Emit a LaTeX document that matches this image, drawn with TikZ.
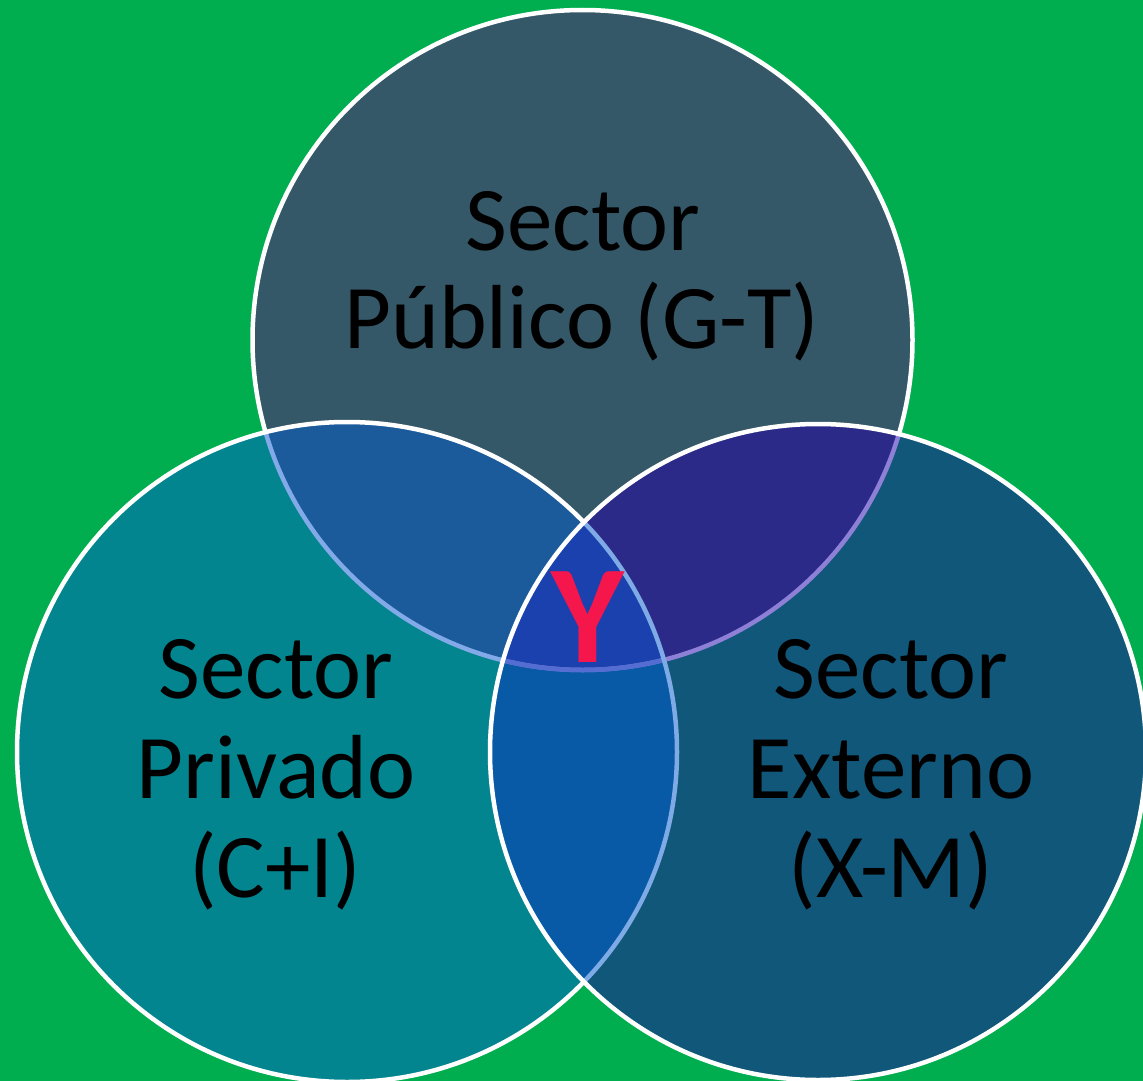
\documentclass[tikz,border=0pt]{standalone}
\usepackage{fontspec}
\setmainfont{Carlito}
\definecolor{bggreen}{HTML}{00AE50}
\definecolor{ctop}{HTML}{355869}
\definecolor{cleft}{HTML}{02858F}
\definecolor{cright}{HTML}{10577A}
\definecolor{ctl}{HTML}{1B5A9B}
\definecolor{ctr}{HTML}{2C2A88}
\definecolor{clr}{HTML}{0859A6}
\definecolor{ccen}{HTML}{1A41AE}
\definecolor{arcTL}{HTML}{83AAE8}
\definecolor{arcTR}{HTML}{8E80D6}
\definecolor{arcC}{HTML}{546DD2}
\definecolor{arcLR}{HTML}{7EAAE6}
\definecolor{yred}{HTML}{F5174B}
\tikzset{
  rim/.style={line width=4.5pt},
  lbl/.style={anchor=base, inner sep=0pt, text=black, font=\fontsize{91}{100}\selectfont},
}
\begin{document}
\begin{tikzpicture}[x=1pt,y=-1pt]
\useasboundingbox (0,0) rectangle (1143,1081);
\clip (0,0) rectangle (1143,1081);
\fill[bggreen] (0,0) rectangle (1143,1081);
\coordinate (T) at (582.5,340);
\coordinate (L) at (347,752);
\coordinate (R) at (818,752);
\def\rT{330}\def\rL{330}\def\rR{328}
% top circle
\fill[ctop] (T) circle[radius=\rT];
\draw[white,rim] (T) circle[radius=\rT];
% left circle
\fill[cleft] (L) circle[radius=\rL];
\begin{scope}
  \clip (L) circle[radius=\rL];
  \fill[ctl] (T) circle[radius=\rT];
  \draw[arcTL,rim] (T) circle[radius=\rT];
\end{scope}
\draw[white,rim] (L) circle[radius=\rL];
% right circle
\fill[cright] (R) circle[radius=\rR];
\begin{scope}
  \clip (R) circle[radius=\rR];
  \fill[ctr] (T) circle[radius=\rT];
  \fill[clr] (L) circle[radius=\rL];
  \begin{scope}
    \clip (L) circle[radius=\rL];
    \fill[ccen] (T) circle[radius=\rT];
  \end{scope}
  \draw[arcTR,rim] (T) circle[radius=\rT];
  \begin{scope}
    \clip (L) circle[radius=\rL];
    \draw[arcC,rim] (T) circle[radius=\rT];
  \end{scope}
  \draw[arcLR,rim] (L) circle[radius=\rL];
\end{scope}
\draw[white,rim] (R) circle[radius=\rR];
% labels
\node[lbl] (t1) at (583,250) {Sector};
\node[lbl] (t2) at (582,348) {Público (G-T)};
\node[lbl] (l1) at (276,698) {Sector};
\node[lbl] (l2) at (276,798) {Privado};
\node[lbl] (l3) at (275,897) {(C+I)};
\node[lbl] (r1) at (891,698) {Sector};
\node[lbl] (r2) at (891,798) {Externo};
\node[lbl] (r3) at (891,897) {(X-M)};
% Y
\node[anchor=base, inner sep=0pt, text=yred, font=\fontsize{140}{142}\selectfont\bfseries] (ysym) at (588,662) {Y};
\end{tikzpicture}
\end{document}
